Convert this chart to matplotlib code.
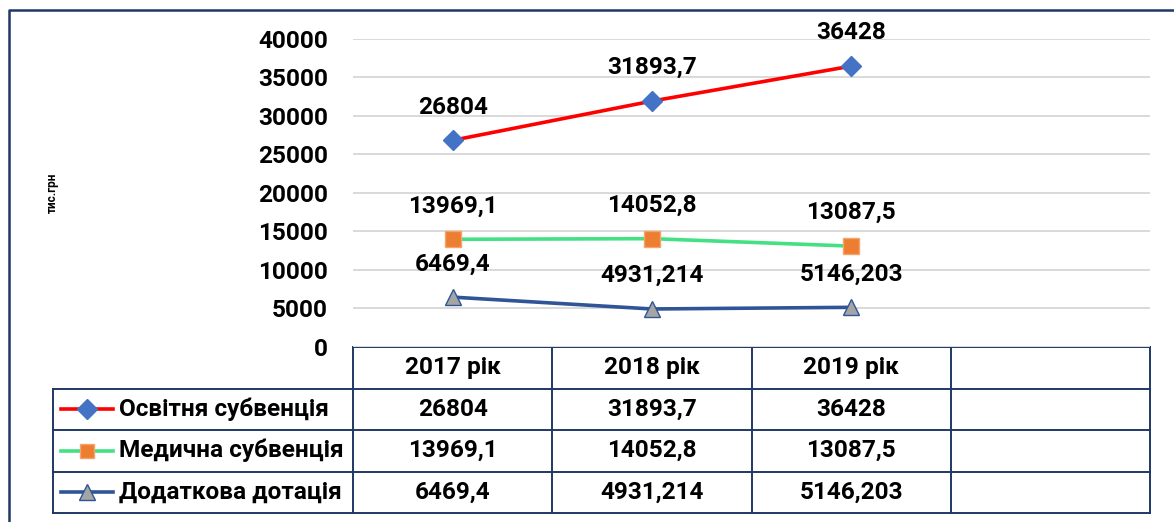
import matplotlib
matplotlib.use("Agg")
import matplotlib.pyplot as plt
from matplotlib.lines import Line2D

# data
years = ["2017 рік", "2018 рік", "2019 рік"]
series_names = ["Освітня субвенція", "Медична субвенція", "Додаткова дотація"]
osvitnya = [26804, 31893.7, 36428]
medychna = [13969.1, 14052.8, 13087.5]
dotatsiya = [6469.4, 4931.214, 5146.203]
label_osvitnya = ["26804", "31893,7", "36428"]
label_medychna = ["13969,1", "14052,8", "13087,5"]
label_dotatsiya = ["6469,4", "4931,214", "5146,203"]
y_ticks = [0, 5000, 10000, 15000, 20000, 25000, 30000, 35000, 40000]

W, H = 1174, 522
FONT = ["Roboto", "DejaVu Sans"]
plt.rcParams["font.family"] = FONT
plt.rcParams["font.weight"] = "bold"
FS = 17.6

styles = [
    dict(color="#FF0000", marker="D", mfc="#4472C4", mec="#4472C4", ms=10.5),
    dict(color="#44E084", marker="s", mfc="#ED7D31", mec="#F4A46C", ms=11),
    dict(color="#2F5597", marker="^", mfc="#A5A5A5", mec="#2F5597", ms=11.5),
]
values = [osvitnya, medychna, dotatsiya]
labels = [label_osvitnya, label_medychna, label_dotatsiya]

fig = plt.figure(figsize=(W / 100, H / 100), dpi=100)

# layout in pixels
plot_l, plot_r = 353, 1150
plot_top, plot_bot = 38.6, 347
n_cols = 4
leg_l = 53
row_h = 41.5

ax = fig.add_axes([plot_l / W, 1 - plot_bot / H, (plot_r - plot_l) / W, (plot_bot - plot_top) / H])
ax.set_xlim(-0.5, n_cols - 0.5)
ax.set_ylim(0, 40000)
ax.set_yticks(y_ticks)
ax.set_yticklabels([str(t) for t in y_ticks], fontsize=FS, fontweight="bold")
ax.tick_params(axis="y", length=0, pad=18)
ax.set_xticks([])
for s in ax.spines.values():
    s.set_visible(False)
ax.grid(axis="y", color="#D9D9D9", lw=1.4)
ax.set_axisbelow(True)

xs = list(range(len(years)))
for vals, labs, st in zip(values, labels, styles):
    ax.plot(xs, vals, lw=2.6, clip_on=False, zorder=3, **st)
    for x, v, t in zip(xs, vals, labs):
        ax.annotate(t, (x, v), xytext=(0, 24), textcoords="offset points",
                    ha="center", va="center", fontsize=FS, fontweight="bold",
                    zorder=4)

# overlay in pixel coordinates for frame and data table
ov = fig.add_axes([0, 0, 1, 1], zorder=-1)
ov.set_xlim(0, W)
ov.set_ylim(H, 0)
ov.axis("off")

frame_c = "#203864"
ov.plot([8.5, 8.5, W + 5], [H + 5, 9.5, 9.5], color=frame_c, lw=1.8)

ov.text(52, 193, "тис.грн", rotation=90, ha="center", va="center",
        fontsize=8.5, fontweight="bold")

col_w = (plot_r - plot_l) / n_cols
line_c = "#1F3864"
tbl_top = plot_bot
rows_bottom = tbl_top + row_h * (len(series_names) + 1)
# vertical lines
for i in range(n_cols + 1):
    x = plot_l + i * col_w
    ov.plot([x, x], [tbl_top, rows_bottom], color=line_c, lw=1.4)
ov.plot([leg_l, leg_l], [tbl_top + row_h, rows_bottom], color=line_c, lw=1.4)
# horizontal lines
ov.plot([plot_l, plot_r], [tbl_top, tbl_top], color=line_c, lw=1.4)
for r in range(1, len(series_names) + 2):
    y = tbl_top + r * row_h
    ov.plot([leg_l, plot_r], [y, y], color=line_c, lw=1.4)

for i, yr in enumerate(years):
    ov.text(plot_l + (i + 0.5) * col_w, tbl_top + row_h / 2, yr,
            ha="center", va="center", fontsize=FS, fontweight="bold")

for r, (name, labs, st) in enumerate(zip(series_names, labels, styles)):
    yc = tbl_top + (r + 1.5) * row_h
    ov.add_line(Line2D([61, 113], [yc, yc], lw=2.6, color=st["color"]))
    ov.plot([87], [yc], marker=st["marker"], mfc=st["mfc"], mec=st["mec"],
            ms=st["ms"] * 0.95, ls="none")
    ov.text(119, yc, name, ha="left", va="center", fontsize=FS, fontweight="bold")
    for i, t in enumerate(labs):
        ov.text(plot_l + (i + 0.5) * col_w, yc, t,
                ha="center", va="center", fontsize=FS, fontweight="bold")

fig.savefig("out.png", dpi=100)
